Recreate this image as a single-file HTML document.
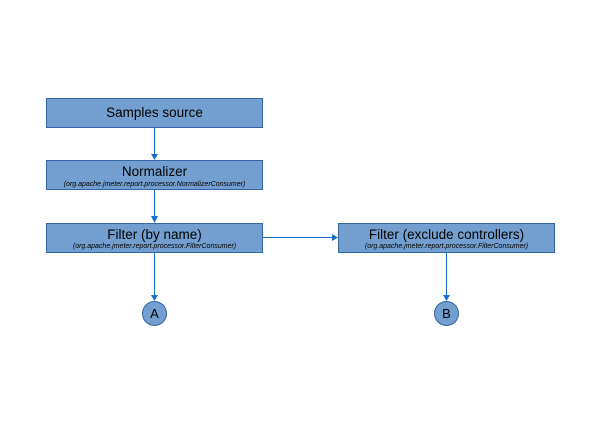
<!DOCTYPE html>
<html><head><style>body{margin:0;background:#fff}</style></head><body>
<svg width="600" height="424" xmlns="http://www.w3.org/2000/svg" font-family="Liberation Sans, sans-serif">
<rect width="600" height="424" fill="#fff"/>
<g fill="#729fcf" stroke="#3465a4" stroke-width="1">
<rect x="46.5" y="98.5" width="216" height="29"/>
<rect x="46.5" y="160.5" width="216" height="29"/>
<rect x="46.5" y="223.5" width="216" height="29"/>
<rect x="338.5" y="223.5" width="216" height="29"/>
<circle cx="154.5" cy="313.5" r="12"/>
<circle cx="446.5" cy="313.5" r="12"/>
</g>
<g stroke="#1a6ed0" stroke-width="1" fill="none">
<line x1="154.5" y1="128" x2="154.5" y2="156"/>
<line x1="154.5" y1="190" x2="154.5" y2="219"/>
<line x1="154.5" y1="253" x2="154.5" y2="297"/>
<line x1="263" y1="237.5" x2="334" y2="237.5"/>
<line x1="446.5" y1="253" x2="446.5" y2="297"/>
</g>
<g fill="#1a6ed0">
<polygon points="151,154 158,154 154.5,160"/>
<polygon points="151,216 158,216 154.5,223"/>
<polygon points="151,295 158,295 154.5,301"/>
<polygon points="332,234 332,241 338,237.5"/>
<polygon points="443,295 450,295 446.5,301"/>
</g>
<g fill="#000" text-anchor="middle">
<text x="154.5" y="117" font-size="13.5">Samples source</text>
<text x="154.5" y="176" font-size="13.5">Normalizer</text>
<text x="154.5" y="186" font-size="7" font-style="italic">(org.apache.jmeter.report.processor.NormalizerConsumer)</text>
<text x="154.5" y="239" font-size="13.5">Filter (by name)</text>
<text x="154.5" y="248" font-size="7" font-style="italic">(org.apache.jmeter.report.processor.FilterConsumer)</text>
<text x="446.5" y="239" font-size="13.5">Filter (exclude controllers)</text>
<text x="446.5" y="248" font-size="7" font-style="italic">(org.apache.jmeter.report.processor.FilterConsumer)</text>
<text x="154.5" y="318" font-size="13">A</text>
<text x="446.5" y="318" font-size="13">B</text>
</g>
</svg>
</body></html>
